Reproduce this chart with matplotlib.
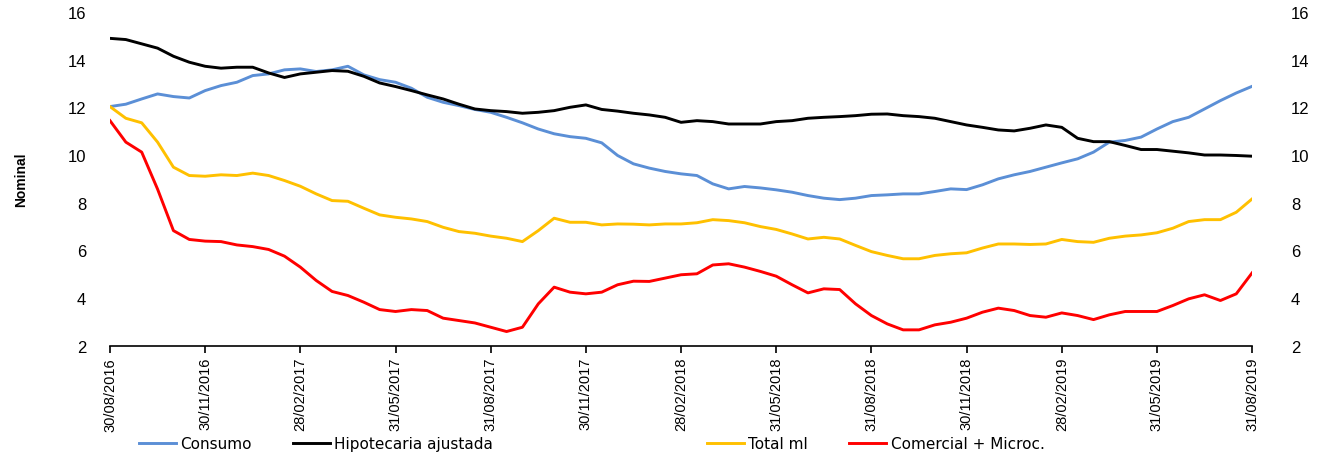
import numpy as np
import matplotlib.pyplot as plt

# semi-monthly observations, 30/08/2016 .. 31/08/2019
tick_labels = ['30/08/2016', '30/11/2016', '28/02/2017', '31/05/2017', '31/08/2017',
               '30/11/2017', '28/02/2018', '31/05/2018', '31/08/2018', '30/11/2018',
               '28/02/2019', '31/05/2019', '31/08/2019']

consumo = [12.03, 12.13, 12.35, 12.56, 12.45, 12.39, 12.70, 12.91, 13.05, 13.33, 13.40, 13.57, 13.61,
           13.50, 13.57, 13.72, 13.36, 13.16, 13.05, 12.80, 12.42, 12.21, 12.07, 11.91, 11.79,
           11.58, 11.35, 11.09, 10.89, 10.77, 10.70, 10.51, 9.98, 9.63, 9.45, 9.31, 9.21,
           9.14, 8.79, 8.58, 8.68, 8.62, 8.54, 8.44, 8.30, 8.19, 8.13, 8.19, 8.30,
           8.33, 8.37, 8.37, 8.47, 8.58, 8.55, 8.75, 9.00, 9.17, 9.31, 9.49, 9.67,
           9.84, 10.12, 10.54, 10.61, 10.75, 11.09, 11.40, 11.58, 11.93, 12.28, 12.60, 12.88]

hipotecaria = [14.89, 14.84, 14.66, 14.48, 14.14, 13.89, 13.72, 13.64, 13.68, 13.68, 13.44, 13.25, 13.40,
               13.47, 13.54, 13.51, 13.30, 13.02, 12.87, 12.70, 12.52, 12.35, 12.13, 11.93, 11.86,
               11.82, 11.75, 11.79, 11.86, 12.00, 12.10, 11.91, 11.84, 11.75, 11.68, 11.58, 11.37,
               11.44, 11.40, 11.30, 11.30, 11.30, 11.40, 11.44, 11.54, 11.58, 11.61, 11.65, 11.71,
               11.72, 11.65, 11.61, 11.54, 11.40, 11.26, 11.16, 11.05, 11.01, 11.12, 11.26, 11.16,
               10.70, 10.56, 10.56, 10.40, 10.23, 10.23, 10.16, 10.09, 10.00, 10.00, 9.98, 9.95]

total_ml = [12.03, 11.54, 11.35, 10.54, 9.49, 9.14, 9.11, 9.17, 9.14, 9.24, 9.14, 8.93, 8.69,
            8.37, 8.09, 8.06, 7.77, 7.49, 7.39, 7.32, 7.21, 6.97, 6.79, 6.72, 6.60,
            6.51, 6.37, 6.83, 7.35, 7.18, 7.18, 7.07, 7.11, 7.10, 7.07, 7.11, 7.11,
            7.16, 7.29, 7.25, 7.16, 7.00, 6.88, 6.69, 6.48, 6.55, 6.48, 6.21, 5.95,
            5.79, 5.65, 5.65, 5.79, 5.86, 5.90, 6.10, 6.27, 6.27, 6.25, 6.27, 6.46,
            6.37, 6.34, 6.51, 6.60, 6.65, 6.74, 6.93, 7.21, 7.29, 7.29, 7.60, 8.16]

comercial = [11.44, 10.54, 10.12, 8.57, 6.83, 6.46, 6.39, 6.37, 6.23, 6.16, 6.04, 5.76, 5.30,
             4.74, 4.28, 4.11, 3.83, 3.52, 3.44, 3.52, 3.48, 3.16, 3.06, 2.96, 2.78,
             2.60, 2.78, 3.76, 4.46, 4.25, 4.18, 4.25, 4.56, 4.71, 4.70, 4.84, 4.98,
             5.02, 5.39, 5.44, 5.30, 5.12, 4.92, 4.56, 4.22, 4.39, 4.36, 3.76, 3.27,
             2.92, 2.67, 2.67, 2.88, 2.99, 3.16, 3.41, 3.58, 3.48, 3.27, 3.20, 3.38,
             3.27, 3.10, 3.30, 3.44, 3.44, 3.44, 3.69, 3.97, 4.14, 3.90, 4.18, 5.06]

names = ['Consumo', 'Hipotecaria ajustada', 'Total ml', 'Comercial + Microc.']
colors = ['#5B8FD6', '#000000', '#FFC000', '#FF0000']

plt.rcParams['font.family'] = ['Liberation Sans', 'DejaVu Sans']

x = np.arange(len(consumo))
fig = plt.figure(figsize=(13.25, 4.6), dpi=100)
ax = fig.add_axes([0.083, 0.246, 0.862, 0.726])

lines = []
for y, c, n in zip([consumo, hipotecaria, total_ml, comercial], colors, names):
    l, = ax.plot(x, y, color=c, lw=2.1, label=n)
    lines.append(l)

ax.set_xlim(0, len(x) - 1)
ax.set_ylim(2, 16)
ax.set_yticks(range(2, 17, 2))
ax.set_xticks(x[::6])
ax.set_xticklabels(tick_labels, rotation=90, fontsize=10.5)
for s in ['top', 'left', 'right']:
    ax.spines[s].set_visible(False)
ax.spines['bottom'].set_linewidth(1.2)
ax.tick_params(axis='x', length=5, width=1.2, pad=3)
ax.tick_params(axis='y', length=0, labelsize=12, pad=17)

ax2 = ax.twinx()
ax2.set_ylim(2, 16)
ax2.set_yticks(range(2, 17, 2))
for s in ['top', 'left', 'right', 'bottom']:
    ax2.spines[s].set_visible(False)
ax2.tick_params(axis='y', length=0, labelsize=12, pad=28)

fig.text(0.016, 0.61, 'Nominal', rotation=90, fontsize=10, fontweight='bold',
         va='center', ha='center')

leg_kw = dict(frameon=False, ncol=2, handlelength=2.4, handletextpad=0.3,
              columnspacing=2.7, borderpad=0, prop={'family': 'DejaVu Sans', 'size': 11},
              loc='center')
fig.legend(lines[:2], names[:2], bbox_to_anchor=(0.2385, 0.033), **leg_kw)
fig.legend(lines[2:], names[2:], bbox_to_anchor=(0.661, 0.033), **leg_kw)

fig.savefig('out.png', dpi=100)
